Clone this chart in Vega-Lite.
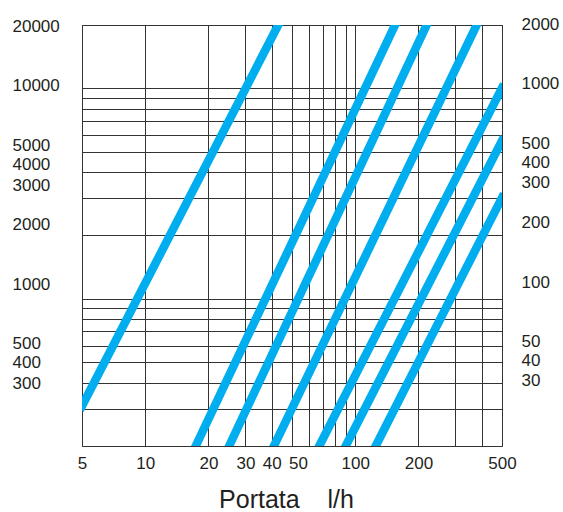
{
  "$schema": "https://vega.github.io/schema/vega-lite/v6.json",
  "width": 420,
  "height": 421,
  "autosize": {"type": "none"},
  "padding": {"left": 82, "top": 25, "right": 61, "bottom": 66},
  "background": "white",
  "config": {
    "view": {"stroke": "#333333", "strokeWidth": 1},
    "font": "Liberation Sans",
    "axis": {"labelFont": "Liberation Sans", "titleFont": "Liberation Sans", "labelColor": "#231f20", "titleColor": "#231f20"}
  },
  "layer": [
    {
      "data": {"values": [{"g": 200}, {"g": 20000}]},
      "mark": {"type": "point", "opacity": 0},
      "encoding": {
        "y": {
          "field": "g", "type": "quantitative",
          "scale": {"type": "log", "domain": [200, 20000], "nice": false},
          "axis": {
            "orient": "left", "grid": true, "labels": false, "ticks": false, "tickSize": 0, "domain": false, "title": null,
            "values": [300, 400, 500, 600, 700, 800, 900, 1000, 2000, 3000, 4000, 5000, 6000, 7000, 8000, 9000, 10000, 20000],
            "gridColor": "#333333", "gridWidth": 1, "gridOpacity": 1
          }
        }
      }
    },
    {
      "data": {
        "values": [
          {"curve": "1", "Q": 5, "dp": 242},
          {"curve": "1", "Q": 43.0, "dp": 20330},
          {"curve": "2", "Q": 17.4, "dp": 152},
          {"curve": "2", "Q": 154.7, "dp": 20330},
          {"curve": "3", "Q": 25.1, "dp": 152},
          {"curve": "3", "Q": 218.9, "dp": 20330},
          {"curve": "4", "Q": 41.0, "dp": 152},
          {"curve": "4", "Q": 378.9, "dp": 20330},
          {"curve": "5", "Q": 67.4, "dp": 152},
          {"curve": "5", "Q": 500, "dp": 9770},
          {"curve": "6", "Q": 90.1, "dp": 152},
          {"curve": "6", "Q": 500, "dp": 5290},
          {"curve": "7", "Q": 125.2, "dp": 152},
          {"curve": "7", "Q": 500, "dp": 2730}
        ]
      },
      "mark": {"type": "line", "color": "#00aeef", "strokeWidth": 8.5, "strokeCap": "square", "clip": true},
      "encoding": {
        "x": {
          "field": "Q", "type": "quantitative",
          "scale": {"type": "log", "domain": [5, 500], "nice": false},
          "axis": {
            "grid": true, "gridColor": "#333333", "gridWidth": 1, "gridOpacity": 1,
            "values": [5, 10, 20, 30, 40, 50, 60, 70, 80, 90, 100, 200, 300, 400, 500],
            "labelExpr": "indexof([5,10,20,30,40,50,100,200,500], datum.value) >= 0 ? format(datum.value, 'd') : ''",
            "labelOffset": {"condition": {"test": "datum.value == 50", "value": 6}, "value": 0},
            "labelFontSize": 17, "labelPadding": 9, "labelOverlap": false, "labelFlush": false,
            "ticks": false, "tickSize": 0, "domain": false,
            "title": "Portata\u00a0\u00a0\u00a0\u00a0l/h", "titleFontSize": 25, "titleFontWeight": "normal",
            "titleBaseline": "alphabetic", "titleAlign": "center", "titleX": 204, "titleY": 61
          }
        },
        "y": {
          "field": "dp", "type": "quantitative",
          "scale": {"type": "log", "domain": [152, 20327], "nice": false},
          "axis": {
            "orient": "left", "grid": false, "ticks": false, "tickSize": 0, "domain": false, "title": null,
            "values": [300, 400, 500, 1000, 2000, 3000, 4000, 5000, 10000, 20000],
            "labelOffset": {"condition": {"test": "datum.value == 3000 || datum.value == 300", "value": -4}, "value": 0},
            "format": "d", "labelFontSize": 17, "labelAlign": "left", "labelPadding": 70, "labelOverlap": false
          }
        },
        "detail": {"field": "curve", "type": "nominal"}
      }
    },
    {
      "data": {"values": [{"r": 15.2}, {"r": 2032.7}]},
      "mark": {"type": "point", "opacity": 0},
      "encoding": {
        "y": {
          "field": "r", "type": "quantitative",
          "scale": {"type": "log", "domain": [15.2, 2032.7], "nice": false},
          "axis": {
            "orient": "right", "grid": false, "ticks": false, "tickSize": 0, "domain": false, "title": null,
            "values": [30, 40, 50, 100, 200, 300, 400, 500, 1000, 2000],
            "labelOffset": {"condition": {"test": "datum.value == 300 || datum.value == 30", "value": -7}, "value": -2},
            "format": "d", "labelFontSize": 17, "labelAlign": "left", "labelPadding": 19, "labelOverlap": false
          }
        }
      }
    }
  ],
  "resolve": {"scale": {"y": "independent"}, "axis": {"y": "independent"}}
}
